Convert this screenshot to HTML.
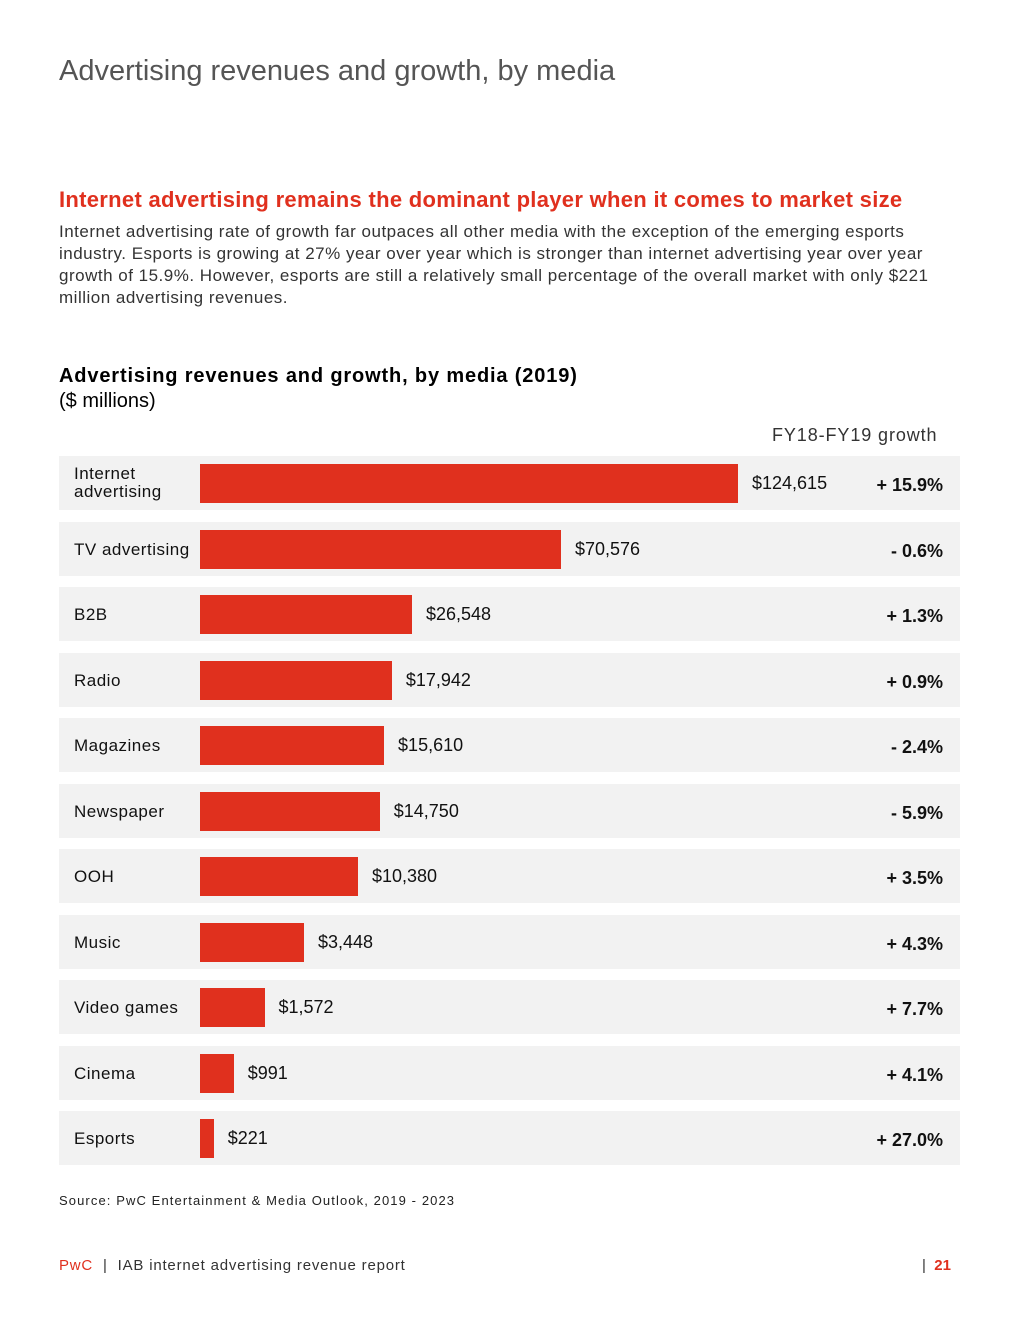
<!DOCTYPE html>
<html><head><meta charset="utf-8">
<style>
body{margin:0;width:1020px;height:1320px;background:#fff;font-family:"Liberation Sans",sans-serif;color:#222;position:relative;overflow:hidden}
.abs{position:absolute}
</style></head><body>
<div class="abs" style="left:59px;top:55px;font-size:29px;color:#555;">Advertising revenues and growth, by media</div>
<div class="abs" style="left:59px;top:187px;font-size:22px;font-weight:bold;color:#e0301e;letter-spacing:0.3px">Internet advertising remains the dominant player when it comes to market size</div>
<div class="abs" style="left:59px;top:221px;width:905px;font-size:17px;line-height:22px;color:#333;letter-spacing:0.5px">Internet advertising rate of growth far outpaces all other media with the exception of the emerging esports industry. Esports is growing at 27% year over year which is stronger than internet advertising year over year growth of 15.9%. However, esports are still a relatively small percentage of the overall market with only $221 million advertising revenues.</div>
<div class="abs" style="left:59px;top:365px;font-size:20px;font-weight:bold;color:#000;letter-spacing:0.85px">Advertising revenues and growth, by media (2019)</div>
<div class="abs" style="left:59px;top:390px;font-size:20px;color:#000;">($ millions)</div>
<div class="abs" style="left:772px;top:425px;font-size:18px;color:#333;letter-spacing:0.9px">FY18-FY19 growth</div>
<div id="chart"></div>
<div class="abs" style="left:59px;top:1193px;font-size:13px;color:#222;letter-spacing:1.1px">Source: PwC Entertainment &amp; Media Outlook, 2019 - 2023</div>
<div class="abs" style="left:59px;top:1257px;font-size:15px;color:#333;letter-spacing:0.8px"><span style="color:#e0301e">PwC</span> &nbsp;|&nbsp; IAB internet advertising revenue report</div>
<div class="abs" style="left:922px;top:1257px;font-size:15px;color:#333;">| &nbsp;<b style="color:#e0301e">21</b></div>
<script>
const categories=["Internet\nadvertising","TV advertising","B2B","Radio","Magazines","Newspaper","OOH","Music","Video games","Cinema","Esports"];
const revenues=[124615,70576,26548,17942,15610,14750,10380,3448,1572,991,221];
const growth=["+ 15.9%","- 0.6%","+ 1.3%","+ 0.9%","- 2.4%","- 5.9%","+ 3.5%","+ 4.3%","+ 7.7%","+ 4.1%","+ 27.0%"];
// piecewise (non-linear) value-to-width scale used by the infographic
const kd=[0,1000,1600,3448,10380,16000,18000,26548,70576,124615];
const kr=[8,34,66,104,158,186,192,212,361,538];
function xScale(v){for(let i=1;i<kd.length;i++){if(v<=kd[i]){const t=(v-kd[i-1])/(kd[i]-kd[i-1]);return kr[i-1]+t*(kr[i]-kr[i-1]);}}return kr[kr.length-1]*v/kd[kd.length-1];}
function yPos(i){return 456+i*65.5;}
const c=document.getElementById('chart');
categories.forEach((cat,i)=>{
 const y=yPos(i);
 const row=document.createElement('div');row.className='abs';
 
 
 row.style.cssText=`left:59px;top:${y}px;width:901px;height:54px;background:#f2f2f2`;c.appendChild(row);
 const lab=document.createElement('div');lab.className='abs';
 
 
 const multi=cat.includes('\n');
 lab.style.cssText=`left:74px;top:${y+(multi?9:19)}px;font-size:17px;line-height:18px;color:#111;white-space:pre;letter-spacing:0.5px`;
 lab.textContent=cat;c.appendChild(lab);
 const w=xScale(revenues[i]);
 const bar=document.createElement('div');bar.className='abs';
 
 
 bar.style.cssText=`left:200px;top:${y+8}px;width:${w}px;height:39px;background:#e0301e`;c.appendChild(bar);
 const val=document.createElement('div');val.className='abs';
 
 
 val.style.cssText=`left:${200+w+14}px;top:${y+17}px;font-size:18px;color:#111`;
 val.textContent='$'+revenues[i].toLocaleString('en-US');c.appendChild(val);
 const g=document.createElement('div');g.className='abs';
 
 
 g.style.cssText=`right:${1020-943}px;top:${y+19}px;font-size:18px;font-weight:bold;color:#111`;
 g.textContent=growth[i];c.appendChild(g);
});
</script>
</body></html>
